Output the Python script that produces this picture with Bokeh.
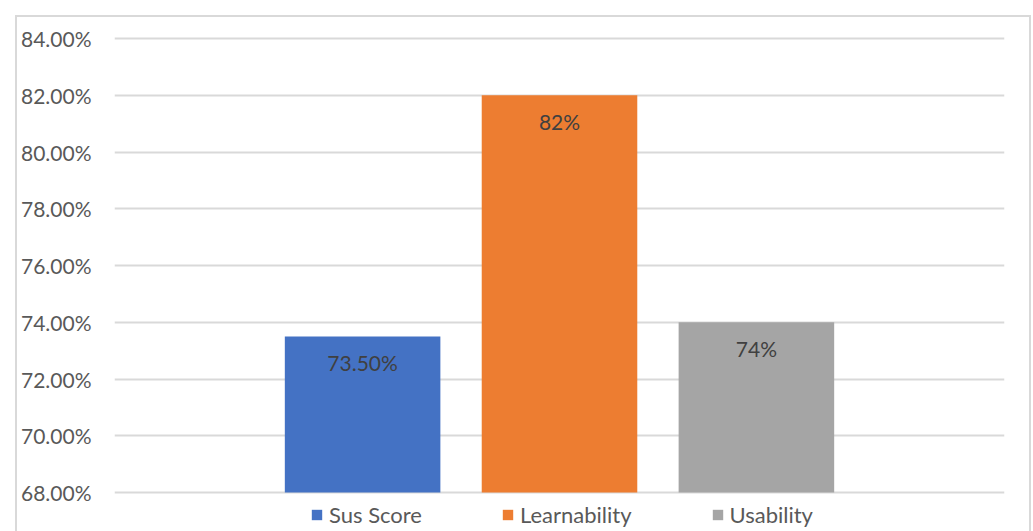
from bokeh.plotting import figure
from bokeh.models import (ColumnDataSource, Range1d, FixedTicker, PrintfTickFormatter,
                          Legend, LegendItem)
from bokeh.core.properties import value
from bokeh.embed import file_html
from bokeh.resources import INLINE

# Survey results
metrics = ["Sus Score", "Learnability", "Usability"]
scores = [73.5, 82.0, 74.0]
score_labels = ["73.50%", "82%", "74%"]
colors = ["#4472C4", "#ED7D31", "#A5A5A5"]

y_ticks = [68, 70, 72, 74, 76, 78, 80, 82, 84]
axis_floor = 68

FONT = "Lato"
TICK_COLOR = "#595959"
LABEL_COLOR = "#404040"
GRID_COLOR = "#D9D9D9"

positions = [i - (len(metrics) - 1) / 2 for i in range(len(metrics))]
label_y = [s - 0.92 for s in scores]

src = ColumnDataSource(dict(x=positions, top=scores, name=metrics, color=colors,
                            ly=label_y, txt=score_labels))

# thin grey frame around the chart area, painted behind the transparent canvas
line = f"linear-gradient({GRID_COLOR},{GRID_COLOR})"
chart_border = ", ".join([
    f"{line} 15px 15px / 1016px 2px no-repeat",
    f"{line} 15px 15px / 2px 600px no-repeat",
    f"{line} 1029px 15px / 2px 600px no-repeat",
])

# the plot frame runs down to the bottom edge so the legend sits inside it
p = figure(width=1033, height=531, output_backend="svg", toolbar_location=None,
           x_axis_location=None,
           x_range=Range1d(-2.26, 2.26), y_range=Range1d(66.6256, 84.0705),
           min_border_left=114, min_border_right=29, min_border_top=36,
           min_border_bottom=0,
           styles={"background": chart_border})
p.outline_line_color = None
p.background_fill_color = None
p.border_fill_color = None

bars = p.vbar(x="x", top="top", bottom=axis_floor, width=0.79, fill_color="color",
              line_color=None, source=src)

p.text(x="x", y="ly", text="txt", source=src, text_align="center",
       text_baseline="middle", text_font=value(FONT), text_font_size="21px",
       text_color=LABEL_COLOR)

# axes and grid
p.xgrid.grid_line_color = None
p.ygrid.ticker = FixedTicker(ticks=y_ticks)
p.ygrid.grid_line_color = GRID_COLOR
p.ygrid.grid_line_width = 2
p.ygrid.level = "underlay"
p.yaxis.ticker = FixedTicker(ticks=y_ticks)
p.yaxis.formatter = PrintfTickFormatter(format="%.2f%%")
p.yaxis.axis_line_color = None
p.yaxis.major_tick_line_color = None
p.yaxis.minor_tick_line_color = None
p.yaxis.major_label_standoff = 17
p.yaxis.major_label_text_font = FONT
p.yaxis.major_label_text_font_size = "21px"
p.yaxis.major_label_text_color = TICK_COLOR

# legend under the bars
items = [LegendItem(label=m, renderers=[bars], index=i) for i, m in enumerate(metrics)]
legend = Legend(items=items, orientation="horizontal", location=(196, 3),
                glyph_width=13, glyph_height=13, label_standoff=6, spacing=79,
                padding=0, margin=0, border_line_color=None,
                background_fill_alpha=0, label_text_font=FONT,
                label_text_font_size="22px", label_text_color=TICK_COLOR,
                label_height=20)
p.add_layout(legend)

open("out.html", "w").write(file_html(p, INLINE))
